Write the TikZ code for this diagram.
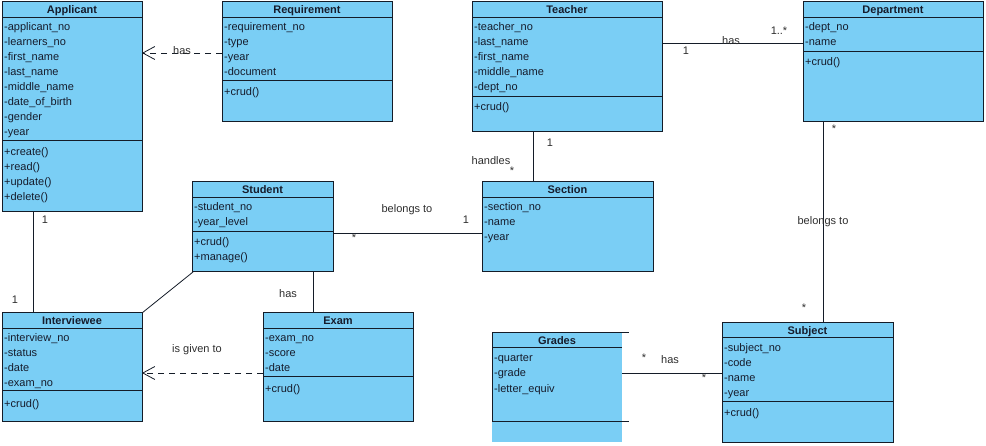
\documentclass[tikz,border=0pt]{standalone}
\usepackage{fontspec}
\setmainfont{Liberation Sans}
\usetikzlibrary{arrows.meta,calc}
\definecolor{umlblue}{RGB}{122,206,245}
\definecolor{linec}{RGB}{20,28,40}
\definecolor{textc}{RGB}{22,28,44}
\definecolor{labc}{RGB}{45,45,45}
\newcommand{\ufont}{\fontsize{11}{13}\selectfont}
\newcommand{\umlattrs}[4]{\foreach \utxt [count=\ucnt] in {#4} {\node[attr] (#1-\ucnt) at (#2,{#3+15*(\ucnt-1)}) {\utxt};}}
\newcommand{\umlsep}[2]{\draw[sepline] ($(#1.north west)+(0,#2)$) -- ($(#1.north east)+(0,#2)$);}
\tikzset{
  box/.style={draw=linec, fill=umlblue, line width=1pt, anchor=north west, inner sep=0pt, outer sep=0pt},
  gbox/.style={fill=umlblue, anchor=north west, inner sep=0pt, outer sep=0pt},
  sepline/.style={draw=linec, line width=1pt},
  attr/.style={anchor=base west, inner sep=0pt, font=\ufont, text=textc},
  ttl/.style={anchor=base, inner sep=0pt, font=\ufont\bfseries, text=textc},
  lab/.style={inner sep=0pt, font=\ufont, text=labc},
  assoc/.style={draw=linec, line width=0.8pt},
  dep/.style={draw=linec, line width=0.8pt, dash pattern=on 6pt off 5pt, -{Straight Barb[length=12pt,width=13pt,line width=0.8pt]}},
}
\begin{document}
\begin{tikzpicture}[x=1pt,y=-1pt]
\useasboundingbox (0,0) rectangle (986,446);

% ---------- Applicant
\node[box, minimum width=140pt, minimum height=210pt] (applicant) at (2,2) {};
\node[ttl] (applicant-t) at (72,14) {Applicant};
\umlsep{applicant}{15.5}
\umlsep{applicant}{139}
\umlattrs{applicant-a}{4}{31}{-applicant\_no,-learners\_no,-first\_name,-last\_name,-middle\_name,-date\_of\_birth,-gender,-year}
\umlattrs{applicant-m}{4}{156}{+create(),+read(),+update(),+delete()}

% ---------- Requirement
\node[box, minimum width=170pt, minimum height=120pt] (requirement) at (222,2) {};
\node[ttl] (requirement-t) at (307,14) {Requirement};
\umlsep{requirement}{15.5}
\umlsep{requirement}{79}
\umlattrs{requirement-a}{224}{31}{-requirement\_no,-type,-year,-document}
\umlattrs{requirement-m}{224}{96}{+crud()}

% ---------- Teacher
\node[box, minimum width=190pt, minimum height=130pt] (teacher) at (472,2) {};
\node[ttl] (teacher-t) at (567,14) {Teacher};
\umlsep{teacher}{15.5}
\umlsep{teacher}{95}
\umlattrs{teacher-a}{474}{31}{-teacher\_no,-last\_name,-first\_name,-middle\_name,-dept\_no}
\umlattrs{teacher-m}{474}{111}{+crud()}

% ---------- Department
\node[box, minimum width=180pt, minimum height=120pt] (department) at (803,2) {};
\node[ttl] (department-t) at (893,14) {Department};
\umlsep{department}{15.5}
\umlsep{department}{50}
\umlattrs{department-a}{805}{31}{-dept\_no,-name}
\umlattrs{department-m}{805}{66}{+crud()}

% ---------- Student
\node[box, minimum width=141pt, minimum height=90pt] (student) at (192,182) {};
\node[ttl] (student-t) at (262.5,194) {Student};
\umlsep{student}{15.5}
\umlsep{student}{50}
\umlattrs{student-a}{194}{211}{-student\_no,-year\_level}
\umlattrs{student-m}{194}{246}{+crud(),+manage()}

% ---------- Section
\node[box, minimum width=171pt, minimum height=90pt] (section) at (482,182) {};
\node[ttl] (section-t) at (567.5,194) {Section};
\umlsep{section}{15.5}
\umlattrs{section-a}{484}{211}{-section\_no,-name,-year}

% ---------- Interviewee
\node[box, minimum width=140pt, minimum height=109pt] (interviewee) at (2,313) {};
\node[ttl] (interviewee-t) at (72,325) {Interviewee};
\umlsep{interviewee}{15.5}
\umlsep{interviewee}{78}
\umlattrs{interviewee-a}{4}{342}{-interview\_no,-status,-date,-exam\_no}
\umlattrs{interviewee-m}{4}{407}{+crud()}

% ---------- Exam
\node[box, minimum width=150pt, minimum height=109pt] (exam) at (263,313) {};
\node[ttl] (exam-t) at (338,325) {Exam};
\umlsep{exam}{15.5}
\umlsep{exam}{64}
\umlattrs{exam-a}{265}{342}{-exam\_no,-score,-date}
\umlattrs{exam-m}{265}{392}{+crud()}

% ---------- Subject
\node[box, minimum width=171pt, minimum height=119pt] (subject) at (722,323) {};
\node[ttl] (subject-t) at (807.5,335) {Subject};
\umlsep{subject}{15}
\umlsep{subject}{79}
\umlattrs{subject-a}{724}{352}{-subject\_no,-code,-name,-year}
\umlattrs{subject-m}{724}{417}{+crud()}

% ---------- Grades (partly drawn)
\node[gbox, minimum width=130pt, minimum height=109pt] (grades) at (492,333) {};
\draw[sepline] (grades.north west) -- ($(grades.north east)+(7,0)$);
\draw[sepline] (grades.north west) -- ($(grades.north west)+(0,89)$);
\draw[sepline] ($(grades.north west)+(0,15)$) -- ($(grades.north east)+(0,15)$);
\draw[sepline] ($(grades.north west)+(0,89)$) -- ($(grades.north east)+(7,89)$);
\node[ttl] (grades-t) at (557,344.5) {Grades};
\umlattrs{grades-a}{494}{362}{-quarter,-grade,-letter\_equiv}

% ---------- connectors
\draw[dep] ($(requirement.north west)+(0,51)$) -- ($(applicant.north east)+(0,51)$);
\node[lab] (l-reqhas) at (182,51) {has};

\draw[assoc] ($(teacher.north east)+(0,41)$) -- ($(department.north west)+(0,41)$);
\node[lab] (l-tdhas) at (731,41) {has};
\node[lab] (l-td1) at (686,51) {1};
\node[lab] (l-td1n) at (779,31) {1..*};

\draw[assoc] ($(teacher.south west)+(61,0)$) -- ($(section.north west)+(51,0)$);
\node[lab] (l-ts1) at (550,143) {1};
\node[lab] (l-tshandles) at (491,161) {handles};
\node[lab] (l-tsstar) at (512,171) {*};

\draw[assoc] ($(student.north east)+(0,51)$) -- ($(section.north west)+(0,51)$);
\node[lab] (l-ssbel) at (407,210) {belongs to};
\node[lab] (l-ss1) at (466,220) {1};
\node[lab] (l-ssstar) at (354,238) {*};

\draw[assoc] ($(department.south west)+(20,0)$) -- ($(subject.north west)+(101,0)$);
\node[lab] (l-dsstar1) at (834,129) {*};
\node[lab] (l-dsbel) at (823,222) {belongs to};
\node[lab] (l-dsstar2) at (804,308) {*};

\draw[assoc] ($(applicant.south west)+(31,0)$) -- ($(interviewee.north west)+(31,0)$);
\node[lab] (l-ai1) at (45,220) {1};
\node[lab] (l-ai2) at (15,300) {1};

\draw[assoc] ($(student.south west)+(1,0)$) -- (interviewee.north east);

\draw[assoc] ($(student.south west)+(121,0)$) -- ($(exam.north west)+(50,0)$);
\node[lab] (l-sehas) at (288,294) {has};

\draw[dep] ($(exam.north west)+(0,60)$) -- ($(interviewee.north east)+(0,60)$);
\node[lab] (l-eigiven) at (197,350) {is given to};

\draw[assoc] ($(grades.north east)+(0,40)$) -- ($(subject.north west)+(0,50)$);
\node[lab] (l-gsstar1) at (644,358) {*};
\node[lab] (l-gshas) at (670,360) {has};
\node[lab] (l-gsstar2) at (704,378) {*};
\end{tikzpicture}
\end{document}
